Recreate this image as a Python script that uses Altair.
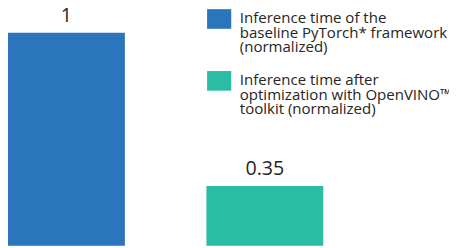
import altair as alt
import pandas as pd

series = [
    "Inference time of the|baseline PyTorch* framework|(normalized)",
    "Inference time after|optimization with OpenVINO™|toolkit (normalized)",
]
values = [1, 0.35]
labels = ["1", "0.35"]
colors = ["#2a75bb", "#2bbca6"]

df = pd.DataFrame({"series": series, "value": values, "label": labels})

FONT = "Open Sans"

base = alt.Chart(df).encode(
    x=alt.X("series:N", sort=series, axis=None,
            scale=alt.Scale(paddingInner=0.411, paddingOuter=0, range=[0, 321])),
    y=alt.Y("value:Q", axis=None,
            scale=alt.Scale(domain=[0.096, 1.096], nice=False, zero=False)),
)

bars = base.mark_bar(clip=True).encode(
    color=alt.Color(
        "series:N",
        sort=series,
        scale=alt.Scale(domain=series, range=colors),
        legend=alt.Legend(
            title=None,
            orient="none",
            legendX=205,
            legendY=3,
            symbolType="M-1.23,-1.4H1.23V0.6H-1.23Z",
            symbolSize=400,
            symbolStrokeWidth=0,
            symbolOpacity=1,
            labelExpr="split(datum.label, '|')",
            labelFont=FONT,
            labelFontSize=15.3,
            labelColor="#262626",
            labelLimit=260,
            labelOffset=11,
            labelBaseline="alphabetic",
            rowPadding=15,
        ),
    )
)

text = base.mark_text(baseline="bottom", dy=-7, fontSize=20, font=FONT,
                      color="#262626").encode(text="label:N")

chart = (bars + text).properties(
    width=449, height=240, padding=0,
    autosize=alt.AutoSizeParams(type="none"),
).configure(
    style={"guide-label": {"lineHeight": 15}},
    view=alt.ViewConfig(stroke="transparent"),
)

chart.save("out.html", embed_options={"renderer": "svg", "actions": False})
